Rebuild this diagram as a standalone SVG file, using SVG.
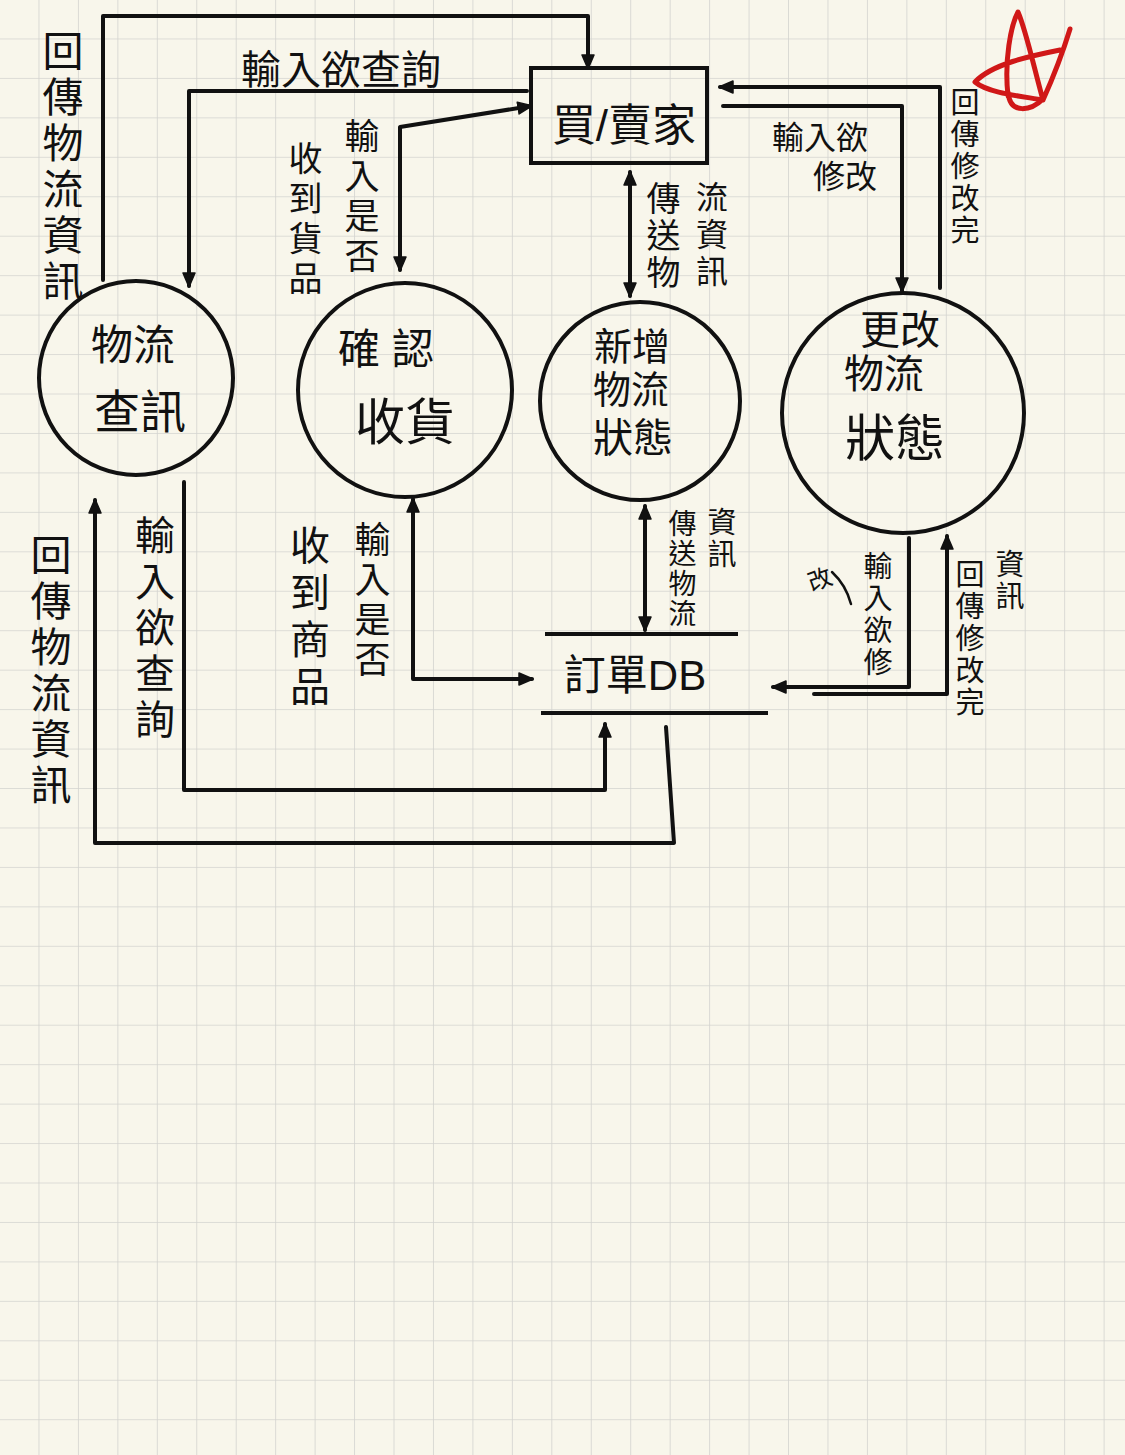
<svg xmlns="http://www.w3.org/2000/svg" width="1125" height="1455" viewBox="0 0 1125 1455">
<defs>
<pattern id="grid" width="39.45" height="39.45" patternUnits="userSpaceOnUse">
<path d="M39.45,0 L39.45,39.45 M0,39.45 L39.45,39.45" fill="none" stroke="#d3d3cf" stroke-width="1.6"/>
</pattern>
<marker id="ah" viewBox="0 0 16 16" refX="14" refY="8" markerWidth="16" markerHeight="16" markerUnits="userSpaceOnUse" orient="auto-start-reverse">
<path d="M1,2 L15,8 L1,14 Z" fill="#111" stroke="#111" stroke-width="1.5" stroke-linejoin="round"/>
</marker>
<style>
.ln{fill:none;stroke:#111;stroke-width:4;stroke-linecap:round;stroke-linejoin:round}
.shape{fill:none;stroke:#111;stroke-width:4}
.t{font-family:"Liberation Sans","Noto Sans CJK TC","Noto Sans CJK SC",sans-serif;fill:#111;text-anchor:middle}
.v{font-family:"Liberation Sans","Noto Sans CJK TC","Noto Sans CJK SC",sans-serif;fill:#111;text-anchor:start;writing-mode:vertical-rl}
</style>
</defs>
<rect width="1125" height="1455" fill="#f8f6eb"/>
<rect width="1125" height="1455" fill="url(#grid)"/>

<g id="connectors">
<path class="ln" d="M103,280 L103,16 L588,16 L588,68" marker-end="url(#ah)"/>
<path class="ln" d="M527,91 L189,91 L189,286" marker-end="url(#ah)"/>
<path class="ln" d="M400,270 L400,127 L531,106" marker-start="url(#ah)" marker-end="url(#ah)"/>
<path class="ln" d="M630,172 L630,296" marker-start="url(#ah)" marker-end="url(#ah)"/>
<path class="ln" d="M723,106 L902,106 L902,291" marker-end="url(#ah)"/>
<path class="ln" d="M940,288 L940,87 L720,87" marker-end="url(#ah)"/>
<path class="ln" d="M666,727 L674,843 L95,843 L95,500" marker-end="url(#ah)"/>
<path class="ln" d="M184,482 L184,790 L605,790 L605,724" marker-end="url(#ah)"/>
<path class="ln" d="M413,499 L413,679 L532,679" marker-start="url(#ah)" marker-end="url(#ah)"/>
<path class="ln" d="M645,506 L645,630" marker-start="url(#ah)" marker-end="url(#ah)"/>
<path class="ln" d="M909,538 L909,687 L773,687" marker-end="url(#ah)"/>
<path class="ln" d="M814,694 L947,694 L947,536" marker-end="url(#ah)"/>
<path d="M832,572 Q846,585 851,604" fill="none" stroke="#111" stroke-width="2.5" stroke-linecap="round"/>
</g>

<g id="labels">
<text class="v" font-size="41" letter-spacing="5" x="59" y="30">回傳物流資訊</text>
<text class="t" font-size="40" x="341" y="84">輸入欲查詢</text>
<text class="v" font-size="35" letter-spacing="5" x="359" y="118">輸入是否</text>
<text class="v" font-size="34" letter-spacing="6" x="303" y="141">收到貨品</text>
<text class="v" font-size="34" letter-spacing="3" x="661" y="181">傳送物</text>
<text class="v" font-size="32" letter-spacing="5" x="709" y="181">流資訊</text>
<text class="t" font-size="32" x="820" y="149">輸入欲</text>
<text class="t" font-size="32" x="845" y="188">修改</text>
<text class="v" font-size="29" letter-spacing="3" x="962" y="87">回傳修改完</text>
<text class="v" font-size="41" letter-spacing="5" x="47" y="534">回傳物流資訊</text>
<text class="v" font-size="40" letter-spacing="6" x="152" y="515">輸入欲查詢</text>
<text class="v" font-size="40" letter-spacing="7" x="307" y="525">收到商品</text>
<text class="v" font-size="36" letter-spacing="4" x="369" y="521">輸入是否</text>
<text class="v" font-size="28" letter-spacing="2" x="680" y="509">傳送物流</text>
<text class="v" font-size="29" letter-spacing="3" x="719" y="507">資訊</text>
<text class="v" font-size="29" letter-spacing="3" x="875" y="551">輸入欲修</text>
<text class="t" font-size="24" x="820" y="588" transform="rotate(-20 820 580)">改</text>
<text class="v" font-size="29" letter-spacing="3" x="967" y="559">回傳修改完</text>
<text class="v" font-size="29" letter-spacing="3" x="1007" y="549">資訊</text>
</g>

<g id="buyer-seller">
<rect class="shape" x="531" y="68" width="176" height="95"/>
<text class="t" font-size="44" x="624" y="141">買/賣家</text>
</g>
<g id="logistics-query">
<ellipse class="shape" cx="136" cy="378" rx="97" ry="97"/>
<text class="t" font-size="42" x="133" y="360">物流</text>
<text class="t" font-size="46" x="140" y="428">查訊</text>
</g>
<g id="confirm-receipt">
<ellipse class="shape" cx="405" cy="390" rx="107" ry="107"/>
<text class="t" font-size="42" x="392" y="364" letter-spacing="12">確認</text>
<text class="t" font-size="50" x="405" y="440">收貨</text>
</g>
<g id="add-status">
<ellipse class="shape" cx="640" cy="401" rx="100" ry="99"/>
<text class="t" font-size="38" x="632" y="360">新增</text>
<text class="t" font-size="38" x="631" y="403">物流</text>
<text class="t" font-size="40" x="633" y="452">狀態</text>
</g>
<g id="update-status">
<ellipse class="shape" cx="903" cy="413" rx="121" ry="120"/>
<text class="t" font-size="40" x="900" y="344">更改</text>
<text class="t" font-size="40" x="884" y="388">物流</text>
<text class="t" font-size="50" x="895" y="456">狀態</text>
</g>
<g id="order-db">
<path class="shape" d="M545,634 L738,634 M541,713 L768,713"/>
<text class="t" font-size="42" x="635" y="690">訂單DB</text>
</g>
<g id="star">
<path d="M1008,96 C1004,60 1011,25 1018,12 C1026,30 1034,68 1043,100 M1008,92 C1010,116 1032,110 1043,99 M1070,29 C1062,55 1052,80 1043,100 M1060,50 C1030,56 992,64 975,82 C988,93 1020,96 1043,100" fill="none" stroke="#d01818" stroke-width="5" stroke-linecap="round" stroke-linejoin="round"/>
</g>
</svg>
